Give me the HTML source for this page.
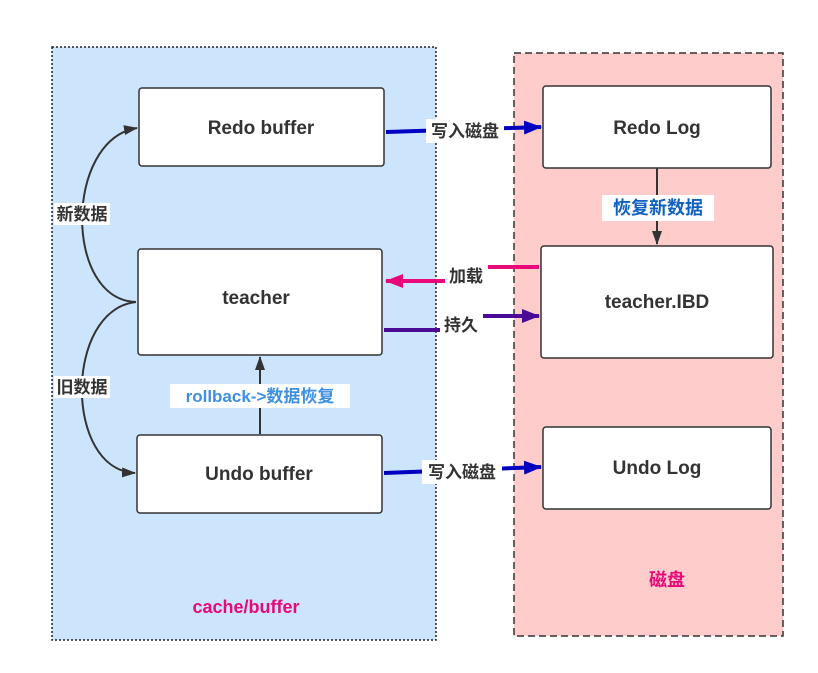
<!DOCTYPE html>
<html><head><meta charset="utf-8"><style>
body{margin:0;width:818px;height:673px;background:#fff;overflow:hidden;font-family:"Liberation Sans","Noto Sans CJK SC",sans-serif;}
</style></head><body>
<svg width="818" height="673" xmlns="http://www.w3.org/2000/svg" style="position:absolute;left:0;top:0">
<defs>
<marker id="ad" markerWidth="14" markerHeight="10" refX="13" refY="5" orient="auto" markerUnits="userSpaceOnUse"><path d="M0,0L14,5L0,10z" fill="#333"/></marker>
<marker id="ab" markerWidth="18" markerHeight="14" refX="17" refY="7" orient="auto" markerUnits="userSpaceOnUse"><path d="M0,0L18,7L0,14z" fill="#0000c0"/></marker>
<marker id="ap" markerWidth="18" markerHeight="14" refX="17" refY="7" orient="auto" markerUnits="userSpaceOnUse"><path d="M0,0L18,7L0,14z" fill="#e8087a"/></marker>
<marker id="av" markerWidth="18" markerHeight="14" refX="17" refY="7" orient="auto" markerUnits="userSpaceOnUse"><path d="M0,0L18,7L0,14z" fill="#4a0a96"/></marker>
</defs>
<rect x="52" y="47" width="384" height="593" fill="#cce5fc" stroke="#222" stroke-width="1.5" stroke-dasharray="2,2"/>
<rect x="514" y="53" width="269" height="583" fill="#ffcccc" stroke="#333" stroke-width="1.5" stroke-dasharray="7,4"/>
<g fill="#fff" stroke="#333" stroke-width="1.5">
<rect x="139" y="88" width="245" height="78" rx="3"/>
<rect x="138" y="249" width="244" height="106" rx="3"/>
<rect x="137" y="435" width="245" height="78" rx="3"/>
<rect x="543" y="86" width="228" height="82" rx="3"/>
<rect x="541" y="246" width="232" height="112" rx="3"/>
<rect x="543" y="427" width="228" height="82" rx="3"/>
</g>
<g fill="none" stroke="#333" stroke-width="2">
<path d="M136,302 C64,300 64,140 137,128" marker-end="url(#ad)"/>
<path d="M136,302 C64,310 64,470 135,473" marker-end="url(#ad)"/>
<path d="M260,434 L260,357" marker-end="url(#ad)"/>
<path d="M657,168 L657,244" marker-end="url(#ad)"/>
</g>
<g fill="none" stroke-width="4">
<path d="M386,132 L541,127" stroke="#0000c0" marker-end="url(#ab)"/>
<path d="M384,473 L541,467" stroke="#0000c0" marker-end="url(#ab)"/>
<path d="M539,267 L488,267 M445,281 L386,281" stroke="#e8087a"/>
<path d="M400,281 L386,281" stroke="#e8087a" marker-end="url(#ap)"/>
<path d="M384,330 L440,330 M483,316 L539,316" stroke="#4a0a96" marker-end="url(#av)"/>
</g>
<g font-size="17" font-weight="bold" fill="#333" text-anchor="middle">
<rect x="54" y="203" width="56" height="22" fill="#fff"/><text x="82" y="220">新数据</text>
<rect x="54" y="376" width="56" height="22" fill="#fff"/><text x="82" y="393">旧数据</text>
<rect x="426" y="119" width="78" height="24" fill="#fff"/><text x="465" y="137">写入磁盘</text>
<rect x="422" y="460" width="80" height="24" fill="#fff"/><text x="462" y="478">写入磁盘</text>
<text x="466" y="282">加载</text>
<text x="461" y="331">持久</text>
<rect x="170" y="384" width="180" height="24" fill="#fff"/>
<text x="260" y="402" fill="#3d8fe0">rollback-&gt;数据恢复</text>
<rect x="602" y="195" width="112" height="26" fill="#fff"/>
<text x="658" y="214" fill="#1060c0" font-size="18">恢复新数据</text>
</g>
<g font-size="19" font-weight="bold" fill="#333" text-anchor="middle">
<text x="261" y="134">Redo buffer</text>
<text x="256" y="304">teacher</text>
<text x="259" y="480">Undo buffer</text>
<text x="657" y="134">Redo Log</text>
<text x="657" y="308">teacher.IBD</text>
<text x="657" y="474">Undo Log</text>
</g>
<text x="246" y="613" font-size="18" font-weight="bold" fill="#e8087a" text-anchor="middle">cache/buffer</text>
<text x="667" y="586" font-size="18" font-weight="bold" fill="#e8087a" text-anchor="middle">磁盘</text>
</svg>
</body></html>
